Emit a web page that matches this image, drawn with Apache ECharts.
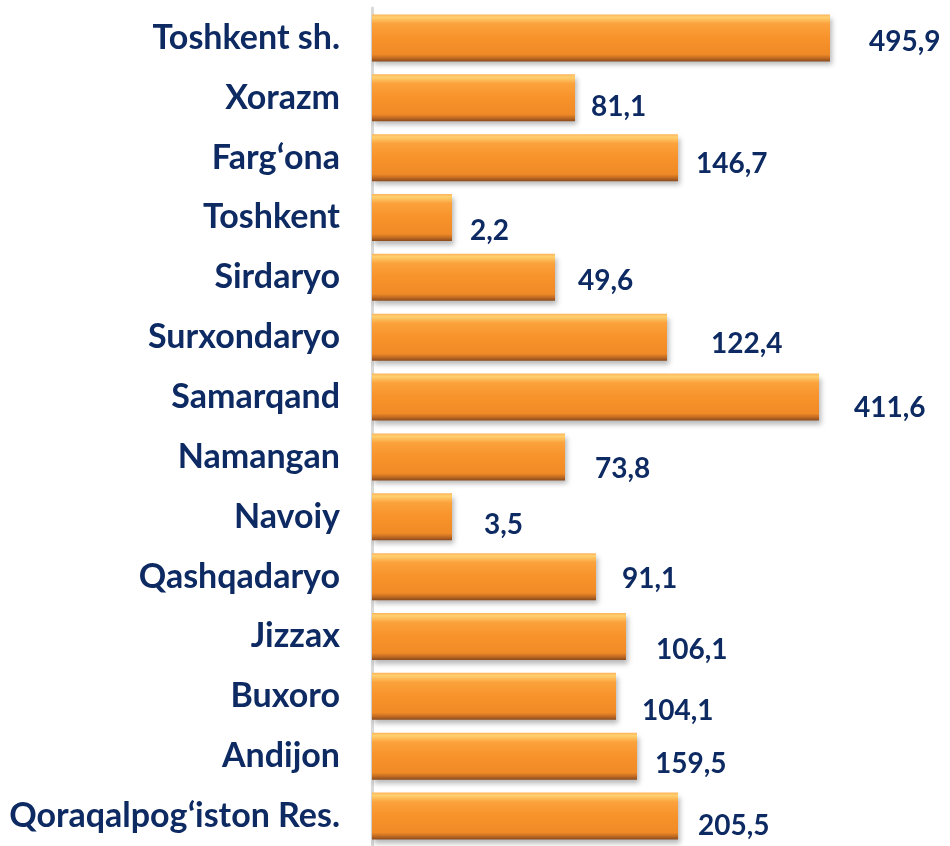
<!DOCTYPE html>
<html>
<head>
<meta charset="utf-8">
<script src="https://cdn.jsdelivr.net/npm/echarts@6/dist/echarts.min.js"></script>
<style>
  html, body { margin: 0; padding: 0; background: #fff; }
  #chart { width: 950px; height: 846px; }
</style>
</head>
<body>
<div id="chart"></div>
<script>
// regions, top to bottom
var categories = ['Toshkent sh.', 'Xorazm', 'Fargʻona', 'Toshkent', 'Sirdaryo', 'Surxondaryo', 'Samarqand',
                  'Namangan', 'Navoiy', 'Qashqadaryo', 'Jizzax', 'Buxoro', 'Andijon', 'Qoraqalpogʻiston Res.'];
// printed values
var values = [495.9, 81.1, 146.7, 2.2, 49.6, 122.4, 411.6, 73.8, 3.5, 91.1, 106.1, 104.1, 159.5, 205.5];
// bar lengths as drawn in the picture (not proportional to the printed values)
var barLengths = [458, 203, 306, 80, 183, 295, 447, 193, 80, 224, 254, 244, 265, 306];

// label nudges (gap from bar end, vertical shift) - hand placed in the original
var labelGap = [39, 16, 18, 18, 23, 44, 35, 30, 32, 26, 30, 26, 18, 20];
var labelDy = [4, 9, 6, 13, 4, 7, 11, 12, 8, 2, 13, 15, 8, 10];

var navy = '#0e2a62';

function LoadChart() {
    var myChart = echarts.init(document.getElementById('chart'));
    var barColor = new echarts.graphic.LinearGradient(0, 0, 0, 1, [
        { offset: 0, color: '#fdb45a' },
        { offset: 0.06, color: '#ffd070' },
        { offset: 0.2, color: '#fba23c' },
        { offset: 0.5, color: '#f8922a' },
        { offset: 0.85, color: '#f08a26' },
        { offset: 0.93, color: '#c06a22' },
        { offset: 1, color: '#8a4a1c' }
    ]);
    var data = barLengths.map(function (v, i) {
        return {
            value: v,
            label: { distance: labelGap[i], offset: [0, labelDy[i]] }
        };
    });
    var option = {
        backgroundColor: '#fff',
        animation: false,
        grid: {
            left: 372,
            top: 8,
            width: 500,
            height: 844
        },
        xAxis: {
            type: 'value',
            min: 0,
            max: 500,
            show: false
        },
        yAxis: {
            type: 'category',
            inverse: true,
            data: categories,
            axisTick: { show: false },
            axisLine: {
                lineStyle: { color: '#d9d9d9', width: 3 }
            },
            offset: 1,
            axisLabel: {
                margin: 31,
                color: navy,
                fontFamily: 'Lato',
                fontWeight: 'bold',
                fontSize: 34
            }
        },
        series: [{
            type: 'bar',
            barWidth: 47,
            data: data,
            itemStyle: {
                color: barColor,
                shadowColor: 'rgba(0, 0, 0, 0.28)',
                shadowBlur: 5,
                shadowOffsetX: 2,
                shadowOffsetY: 4
            },
            label: {
                show: true,
                position: 'right',
                color: navy,
                fontFamily: 'Lato',
                fontWeight: 'bold',
                fontSize: 28,
                formatter: function (p) {
                    return values[p.dataIndex].toFixed(1).replace('.', ',');
                }
            }
        }]
    };
    myChart.setOption(option);
}
LoadChart();
</script>
</body>
</html>
